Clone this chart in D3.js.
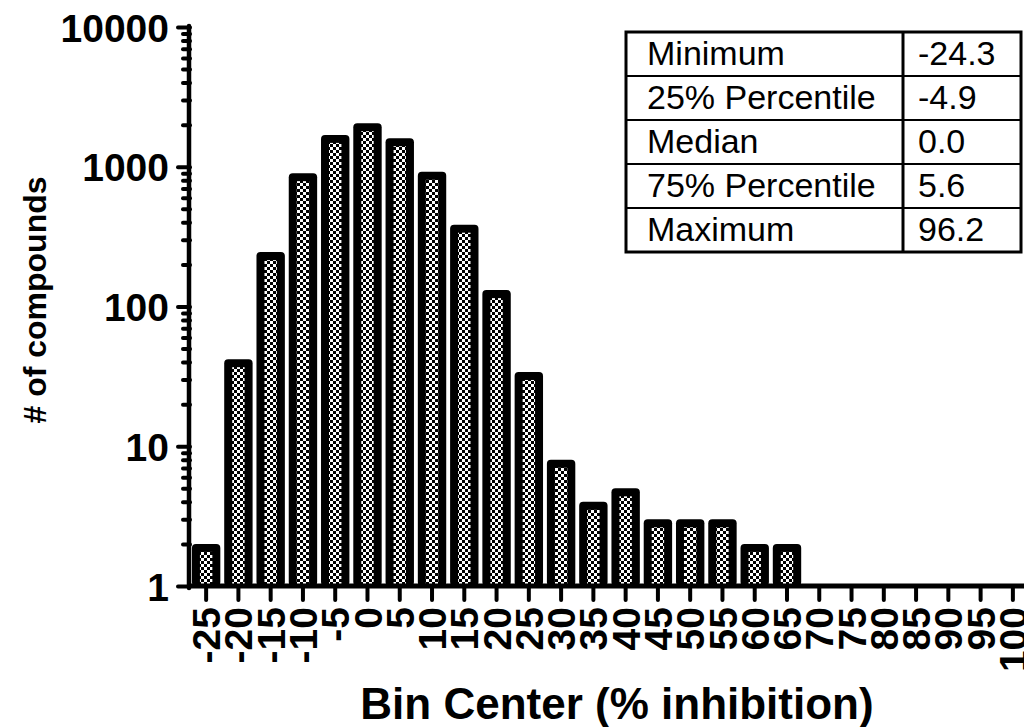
<!DOCTYPE html>
<html>
<head>
<meta charset="utf-8">
<script src="https://cdn.jsdelivr.net/npm/d3@7"></script>
<style>
  html, body { margin: 0; padding: 0; background: #fff; }
  svg { display: block; }
  text { font-family: "Liberation Sans", Arial, sans-serif; fill: #000; }
</style>
</head>
<body>
<svg id="chart" width="1024" height="727"></svg>
<script>
// Histogram of % inhibition, counts per 5% bin
const binCenters = [-25, -20, -15, -10, -5, 0, 5, 10, 15, 20, 25, 30, 35, 40, 45, 50, 55, 60, 65, 70, 75, 80, 85, 90, 95, 100];
const binCounts  = [2, 42, 245, 900, 1690, 2050, 1600, 920, 385, 131, 34, 8, 4, 5, 3, 3, 3, 2, 2, 0, 0, 0, 0, 0, 0, 0];

const yMajorTicks = [1, 10, 100, 1000, 10000];

// Summary statistics table
const statLabels = ["Minimum", "25% Percentile", "Median", "75% Percentile", "Maximum"];
const statValues = ["-24.3", "-4.9", "0.0", "5.6", "96.2"];

const svg = d3.select("#chart");

const plotLeft = 190, plotBottom = 586, plotTop = 27;
const binStep = 32.27;

const x = d3.scaleBand()
  .domain(binCenters)
  .range([plotLeft, plotLeft + binStep * binCenters.length])
  .paddingInner(0.12)
  .paddingOuter(0.06);

const y = d3.scaleLog()
  .domain([1, 10000])
  .range([plotBottom, plotTop]);

// checker fill used inside each bar
const defs = svg.append("defs");
const pat = defs.append("pattern")
  .attr("id", "checker")
  .attr("patternUnits", "userSpaceOnUse")
  .attr("width", 6).attr("height", 6);
pat.append("rect").attr("width", 6).attr("height", 6).attr("fill", "#fff");
pat.append("rect").attr("x", 0).attr("y", 0).attr("width", 3).attr("height", 3).attr("fill", "#000");
pat.append("rect").attr("x", 3).attr("y", 3).attr("width", 3).attr("height", 3).attr("fill", "#000");

// bars
const bins = binCenters.map((c, i) => ({ c, n: binCounts[i] })).filter(d => d.n > 0);
const bw = x.bandwidth();
const barG = svg.append("g");
barG.selectAll("rect.bar")
  .data(bins)
  .join("rect")
  .attr("class", "bar")
  .attr("x", d => x(d.c))
  .attr("y", d => y(d.n))
  .attr("width", bw)
  .attr("height", d => plotBottom - y(d.n))
  .attr("rx", 4)
  .attr("fill", "#000");
barG.selectAll("rect.inner")
  .data(bins)
  .join("rect")
  .attr("class", "inner")
  .attr("x", d => x(d.c) + 8)
  .attr("y", d => y(d.n) + 8)
  .attr("width", bw - 16)
  .attr("height", d => Math.max(0, plotBottom - 2 - (y(d.n) + 8)))
  .attr("fill", "url(#checker)");

// y axis: minor ticks
const minorTicks = [];
for (let p = 1; p < 10000; p *= 10) for (let k = 2; k <= 9; k++) minorTicks.push(p * k);

const yMinor = svg.append("g")
  .attr("transform", `translate(${plotLeft},0)`)
  .call(d3.axisLeft(y).tickValues(minorTicks).tickSize(7).tickFormat(""));
yMinor.select(".domain").remove();

const yMajor = svg.append("g")
  .attr("transform", `translate(${plotLeft},0)`)
  .call(d3.axisLeft(y).tickValues(yMajorTicks).tickSize(12).tickPadding(9).tickFormat(d3.format("d")));
yMajor.select(".domain").remove();
yMajor.selectAll("text")
  .attr("font-size", 39).attr("font-weight", "bold")
  .attr("dy", "0.36em");

svg.selectAll(".tick line")
  .attr("stroke", "#000").attr("stroke-width", 4).attr("stroke-linecap", "round");

// x axis
const xAxis = svg.append("g")
  .attr("transform", `translate(0,${plotBottom})`)
  .call(d3.axisBottom(x).tickSize(14).tickSizeOuter(0).tickPadding(0));
xAxis.select(".domain").remove();
xAxis.selectAll(".tick line")
  .attr("stroke", "#000").attr("stroke-width", 4).attr("stroke-linecap", "round");
xAxis.selectAll(".tick text")
  .attr("font-size", 39).attr("font-weight", "bold")
  .attr("text-anchor", "end")
  .attr("transform", "translate(0,21) rotate(-90)")
  .attr("x", 0).attr("y", 0)
  .attr("dy", "0.36em");

// axis lines
svg.append("line")
  .attr("x1", plotLeft - 1).attr("x2", plotLeft - 1)
  .attr("y1", plotTop - 1).attr("y2", plotBottom + 2)
  .attr("stroke", "#000").attr("stroke-width", 4.5).attr("stroke-linecap", "round");
svg.append("line")
  .attr("x1", plotLeft - 2).attr("x2", 1030)
  .attr("y1", plotBottom).attr("y2", plotBottom)
  .attr("stroke", "#000").attr("stroke-width", 5);

// axis titles
svg.append("text")
  .attr("x", 617).attr("y", 719)
  .attr("text-anchor", "middle")
  .attr("font-size", 44).attr("font-weight", "bold")
  .text("Bin Center (% inhibition)");

svg.append("text")
  .attr("transform", "translate(46,300) rotate(-90)")
  .attr("text-anchor", "middle")
  .attr("font-size", 32).attr("font-weight", "bold")
  .text("# of compounds");

// statistics table
const tbl = { x0: 626, x1: 1021, xDiv: 903, y0: 32, rowH: 44 };
const tg = svg.append("g");
tg.append("rect")
  .attr("x", tbl.x0).attr("y", tbl.y0)
  .attr("width", tbl.x1 - tbl.x0).attr("height", tbl.rowH * statLabels.length)
  .attr("fill", "#fff").attr("stroke", "#000").attr("stroke-width", 3);
statLabels.slice(1).forEach((_, i) => {
  tg.append("line")
    .attr("x1", tbl.x0).attr("x2", tbl.x1)
    .attr("y1", tbl.y0 + tbl.rowH * (i + 1)).attr("y2", tbl.y0 + tbl.rowH * (i + 1))
    .attr("stroke", "#000").attr("stroke-width", 2);
});
tg.append("line")
  .attr("x1", tbl.xDiv).attr("x2", tbl.xDiv)
  .attr("y1", tbl.y0).attr("y2", tbl.y0 + tbl.rowH * statLabels.length)
  .attr("stroke", "#000").attr("stroke-width", 3);
tg.selectAll("text.lbl")
  .data(statLabels)
  .join("text")
  .attr("class", "lbl")
  .attr("x", 647)
  .attr("y", (d, i) => tbl.y0 + tbl.rowH * i + 33)
  .attr("font-size", 34)
  .text(d => d);
tg.selectAll("text.val")
  .data(statValues)
  .join("text")
  .attr("class", "val")
  .attr("x", 918)
  .attr("y", (d, i) => tbl.y0 + tbl.rowH * i + 33)
  .attr("font-size", 34)
  .text(d => d);
</script>
</body>
</html>
